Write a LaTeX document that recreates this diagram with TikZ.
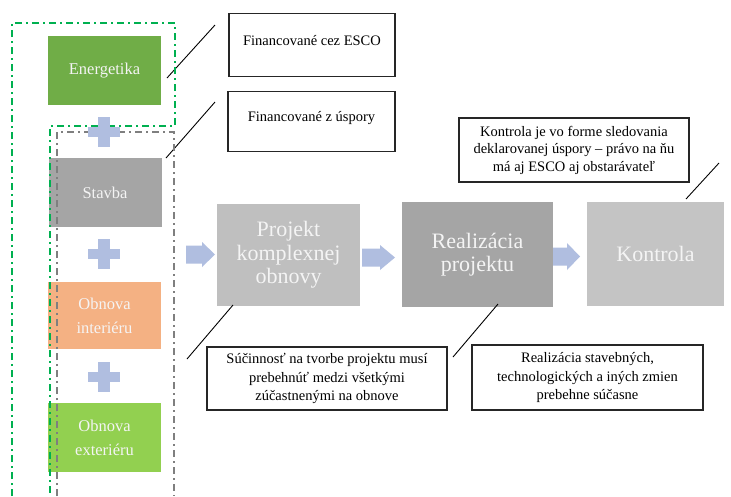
\documentclass[tikz,border=0pt]{standalone}
\usepackage{fontspec}
\setmainfont{Liberation Serif}
\definecolor{energ}{HTML}{70AD47}
\definecolor{stavba}{HTML}{A5A5A5}
\definecolor{interier}{HTML}{F4B183}
\definecolor{exterier}{HTML}{92D050}
\definecolor{lightgray}{HTML}{BFBFBF}
\definecolor{midgray}{HTML}{A5A5A5}
\definecolor{arrowblue}{HTML}{B0BEE0}
\definecolor{dashgreen}{HTML}{00B050}
\definecolor{dashgray}{HTML}{7F7F7F}
\definecolor{boxtext}{HTML}{F4F4F4}
\begin{document}
\begin{tikzpicture}[x=1pt,y=-1pt,
  leftbox/.style={minimum width=113pt, minimum height=69pt, inner sep=0pt, text=boxtext,
    font=\fontsize{16.5}{24}\selectfont, align=center},
  mainbox/.style={inner sep=0pt, text=boxtext, font=\fontsize{22}{23.5}\selectfont, align=center},
  callout/.style={draw=black!85, line width=1.3pt, inner sep=0pt, align=center,
    font=\fontsize{14.5}{18.5}\selectfont},
  leader/.style={line width=0.9pt, black},
  flowarrow/.style={fill=arrowblue},
  plusmark/.style={fill=arrowblue},
  greendash/.style={draw=dashgreen, line width=1.6pt, dash pattern=on 7pt off 4pt on 2pt off 4pt},
  graydash/.style={draw=dashgray, line width=1.2pt, dash pattern=on 7pt off 4pt on 2pt off 4pt}
]
\useasboundingbox[fill=white] (0,0) rectangle (731,496);

% left column boxes
\node[leftbox, fill=energ] (energ) at (104.5,70.5) {Energetika};
\node[leftbox, fill=stavba] (stavba) at (105,192.5) {Stavba};
\node[leftbox, fill=interier, minimum height=67pt] (inter) at (104.5,315.5) {Obnova\\interiéru};
\node[leftbox, fill=exterier] (exter) at (104.5,437.5) {Obnova\\exteriéru};

% main flow boxes
\node[mainbox, fill=lightgray, minimum width=143pt, minimum height=102pt] (projekt) at (288.5,255) {Projekt\\komplexnej\\obnovy};
\node[mainbox, fill=midgray, minimum width=151pt, minimum height=105pt] (real) at (477.5,254.5) {Realizácia\\projektu};
\node[mainbox, fill=lightgray!92!white, minimum width=137pt, minimum height=104pt] (kontrola) at (655.5,254) {Kontrola};

% callouts
\node[callout, minimum width=166pt, text height=32pt, text depth=31pt] (c1) at (312,13) [anchor=north] {Financované cez ESCO};
\node[callout, minimum width=167pt, text height=30pt, text depth=30pt] (c2) at (311.5,91) [anchor=north] {Financované z úspory};
\node[callout, minimum width=230pt, minimum height=64pt, font=\fontsize{14.5}{17.5}\selectfont] (c3) at (574,150) {Kontrola je vo forme sledovania\\deklarovanej úspory -- právo na ňu\\má aj ESCO aj obstarávateľ};
\node[callout, minimum width=240pt, minimum height=63pt] (c4) at (327,378.5) {Súčinnosť na tvorbe projektu musí\\prebehnúť medzi všetkými\\zúčastnenými na obnove};
\node[callout, minimum width=231pt, minimum height=65pt] (c5) at (587.5,377.5) {Realizácia stavebných,\\technologických a iných zmien\\prebehne súčasne};

% leader lines
\coordinate (l1a) at (167,78);  \coordinate (l1b) at (215,25);
\coordinate (l2a) at (166,158); \coordinate (l2b) at (215,102);
\coordinate (l3a) at (686,199); \coordinate (l3b) at (719,163);
\coordinate (l4a) at (187,359); \coordinate (l4b) at (233,305);
\coordinate (l5a) at (453,357); \coordinate (l5b) at (498,304);
\draw[leader] (l1a) -- (l1b);
\draw[leader] (l2a) -- (l2b);
\draw[leader] (l3a) -- (l3b);
\draw[leader] (l4a) -- (l4b);
\draw[leader] (l5a) -- (l5b);

% dash-dot group outlines
\draw[greendash] (12,496) -- (12,23) -- (175,23) -- (175,126) -- (50,126) -- (50,496);
\draw[graydash] (57,496) -- (57,132) -- (174,132) -- (174,496);

% plus signs
\foreach \cy in {132,254,377}{
  \fill[plusmark] (98,\cy-15) rectangle (110,\cy+15);
  \fill[plusmark] (88,\cy-5) rectangle (120,\cy+5);
}

% block arrows
\fill[flowarrow] (186,245.5) -- (202,245.5) -- (202,242) -- (215,254.5) -- (202,267) -- (202,263.5) -- (186,263.5) -- cycle;
\fill[flowarrow] (362,248.5) -- (380,248.5) -- (380,245) -- (395,257.5) -- (380,270) -- (380,266.5) -- (362,266.5) -- cycle;
\fill[flowarrow] (553,247.5) -- (567,247.5) -- (567,243) -- (580,256.5) -- (567,270) -- (567,265.5) -- (553,265.5) -- cycle;
\end{tikzpicture}
\end{document}
